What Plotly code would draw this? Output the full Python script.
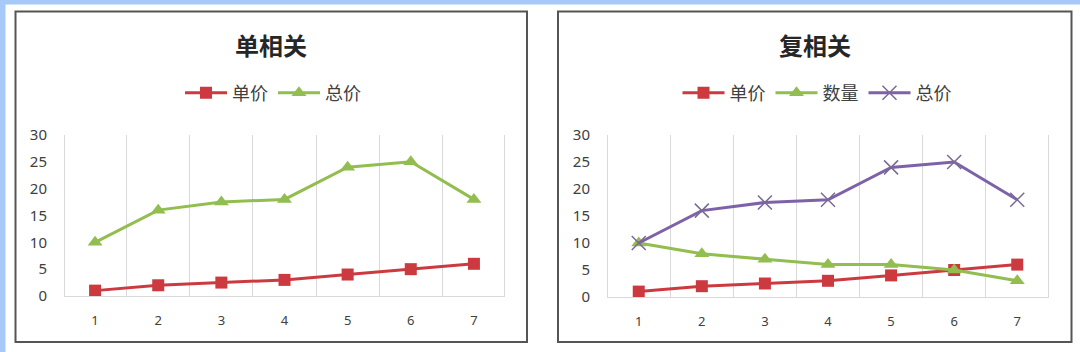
import plotly.graph_objects as go

# ---- data ----
categories = ["1", "2", "3", "4", "5", "6", "7"]
unit_price = [1, 2, 2.5, 3, 4, 5, 6]          # 单价
quantity = [10, 8, 7, 6, 6, 5, 3]             # 数量
total_price = [10, 16, 17.5, 18, 24, 25, 18]  # 总价
title_left = "单相关"
title_right = "复相关"
y_ticks = [0, 5, 10, 15, 20, 25, 30]

W, H = 1080, 352
RED = "#cc3a40"
GREEN = "#92bd4f"
PURPLE = "#7e62a8"
BLUE_BG = "#a6c9f9"
BORDER = "#555555"
GRID = "#d9d9d9"
TXT = "#404040"
CJK = "Noto Sans CJK SC"

def px(v):
    return v / W

def py(v):
    return 1 - v / H

fig = go.Figure()

line_w = 3
sq = dict(symbol="square", size=12)
tri = dict(symbol="triangle-up", size=13)
xm = dict(symbol="x-thin", size=14, line=dict(width=1.5, color="#7a6a96"))

# left chart
fig.add_trace(go.Scatter(x=categories, y=unit_price, name="单价", mode="lines+markers",
                         line=dict(color=RED, width=line_w), marker=dict(color=RED, **sq),
                         xaxis="x", yaxis="y", legend="legend"))
fig.add_trace(go.Scatter(x=categories, y=total_price, name="总价", mode="lines+markers",
                         line=dict(color=GREEN, width=line_w), marker=dict(color=GREEN, **tri),
                         xaxis="x", yaxis="y", legend="legend"))
# right chart
fig.add_trace(go.Scatter(x=categories, y=unit_price, name="单价", mode="lines+markers",
                         line=dict(color=RED, width=line_w), marker=dict(color=RED, **sq),
                         xaxis="x2", yaxis="y2", legend="legend2"))
fig.add_trace(go.Scatter(x=categories, y=quantity, name="数量", mode="lines+markers",
                         line=dict(color=GREEN, width=line_w), marker=dict(color=GREEN, **tri),
                         xaxis="x2", yaxis="y2", legend="legend2"))
fig.add_trace(go.Scatter(x=categories, y=total_price, name="总价", mode="lines+markers",
                         line=dict(color=PURPLE, width=line_w), marker=dict(color=PURPLE, **xm),
                         xaxis="x2", yaxis="y2", legend="legend2"))

xaxis_common = dict(type="category", tickson="boundaries", showgrid=True, gridcolor=GRID,
                    gridwidth=1, showline=True, linecolor=GRID, linewidth=1, ticks="",
                    tickfont=dict(family="Noto Sans", size=13, color=TXT),
                    ticklabelstandoff=12, zeroline=False, fixedrange=True)
yaxis_common = dict(range=[0, 30], tickvals=y_ticks, showgrid=False, zeroline=False,
                    showline=True, mirror=True, linecolor=GRID, linewidth=1, ticks="",
                    tickfont=dict(family="Noto Sans", size=15, color=TXT),
                    ticklabelstandoff=14, fixedrange=True)

legend_common = dict(orientation="h", xanchor="center", yanchor="middle",
                     font=dict(family=CJK, size=18, color=TXT), bgcolor="rgba(0,0,0,0)",
                     itemwidth=42, tracegroupgap=0)

fig.update_layout(
    width=W, height=H,
    margin=dict(l=0, r=0, t=0, b=0, pad=0, autoexpand=False),
    paper_bgcolor="white", plot_bgcolor="rgba(0,0,0,0)",
    xaxis=dict(domain=[px(65), px(504)], anchor="y", **xaxis_common),
    yaxis=dict(domain=[py(296), py(135)], anchor="x", **yaxis_common),
    xaxis2=dict(domain=[px(608), px(1048)], anchor="y2", **xaxis_common),
    yaxis2=dict(domain=[py(297), py(135)], anchor="x2", **yaxis_common),
    legend=dict(x=px(273), y=py(93), **legend_common),
    legend2=dict(x=px(817), y=py(93), **legend_common),
    showlegend=True,
    annotations=[
        dict(text="<b>" + title_left + "</b>", x=px(271), y=py(44), xref="paper", yref="paper",
             showarrow=False, xanchor="center", yanchor="middle",
             font=dict(family=CJK, size=24, color="#262626")),
        dict(text="<b>" + title_right + "</b>", x=px(814.5), y=py(44), xref="paper", yref="paper",
             showarrow=False, xanchor="center", yanchor="middle",
             font=dict(family=CJK, size=24, color="#262626")),
    ],
    shapes=[
        dict(type="rect", xref="paper", yref="paper", x0=0, x1=1, y0=py(4.5), y1=1,
             fillcolor=BLUE_BG, line=dict(width=0), layer="below"),
        dict(type="rect", xref="paper", yref="paper", x0=0, x1=px(5.5), y0=0, y1=1,
             fillcolor=BLUE_BG, line=dict(width=0), layer="below"),
        dict(type="rect", xref="paper", yref="paper", x0=px(15.5), x1=px(527), y0=py(342),
             y1=py(11.5), line=dict(color=BORDER, width=2), fillcolor="white", layer="below"),
        dict(type="rect", xref="paper", yref="paper", x0=px(558), x1=px(1071.5), y0=py(342),
             y1=py(11.5), line=dict(color=BORDER, width=2), fillcolor="white", layer="below"),
    ],
)

fig.write_html("out.html")
